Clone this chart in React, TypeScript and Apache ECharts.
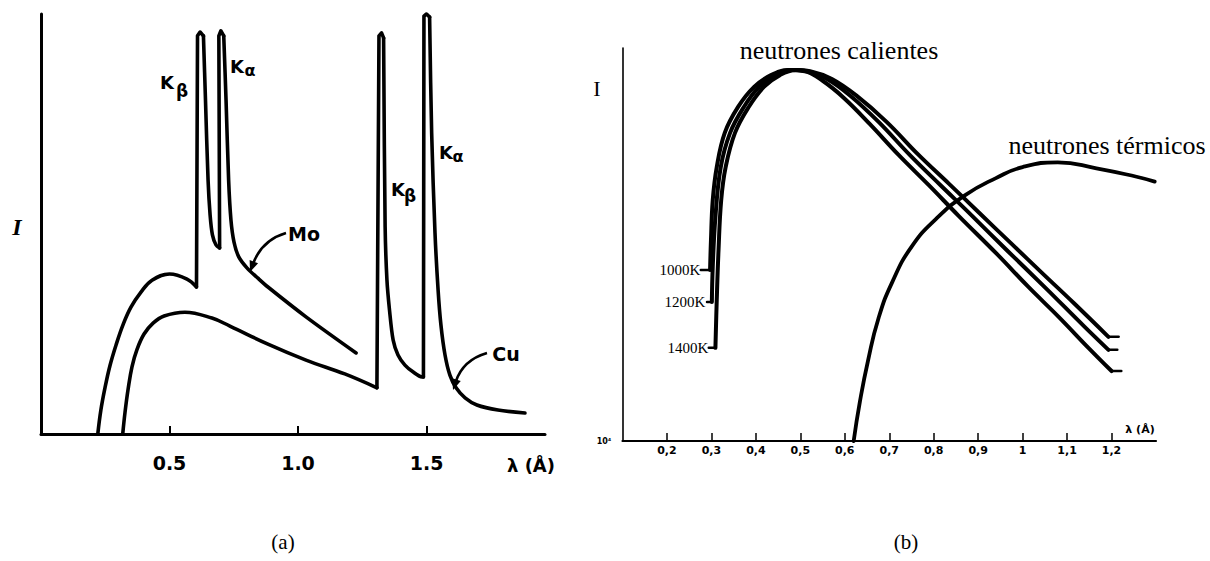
import React, { useEffect, useRef } from "react";
import * as echarts from "echarts";

// ---------- Panel (a): X-ray spectra, lambda (Å) vs relative intensity ----------
// Mo tube spectrum, split into pieces: smooth continuum, sharp lines, smooth decays
const moContinuum: number[][] = [
  [0.221, 0], [0.233, 0.057], [0.249, 0.11], [0.268, 0.162], [0.292, 0.212], [0.319, 0.26],
  [0.35, 0.302], [0.389, 0.338], [0.432, 0.366], [0.5, 0.381], [0.568, 0.369], [0.605, 0.35],
];
const moKbetaLine: number[][] = [[0.605, 0.35], [0.609, 0.948], [0.619, 0.957], [0.632, 0.948]];
const moKbetaDecay: number[][] = [
  [0.632, 0.948], [0.64, 0.795], [0.65, 0.605], [0.658, 0.521], [0.667, 0.474], [0.681, 0.45], [0.695, 0.443],
];
const moKalphaLine: number[][] = [[0.695, 0.443], [0.692, 0.948], [0.7, 0.96], [0.711, 0.948]];
const moKalphaDecay: number[][] = [
  [0.711, 0.948], [0.72, 0.795], [0.73, 0.605], [0.739, 0.51], [0.751, 0.457], [0.77, 0.421],
  [0.802, 0.395], [0.844, 0.371], [0.883, 0.35], [1.031, 0.279], [1.226, 0.193],
];
// Cu tube spectrum
const cuContinuum: number[][] = [
  [0.318, 0], [0.327, 0.052], [0.339, 0.107], [0.354, 0.16], [0.374, 0.202], [0.401, 0.238],
  [0.436, 0.264], [0.479, 0.281], [0.56, 0.29], [0.665, 0.276], [0.735, 0.257],
  [0.883, 0.214], [1.031, 0.176], [1.182, 0.143], [1.307, 0.11],
];
const cuKbetaLine: number[][] = [[1.307, 0.11], [1.315, 0.948], [1.325, 0.955], [1.333, 0.943]];
const cuKbetaDecay: number[][] = [
  [1.333, 0.943], [1.339, 0.493], [1.346, 0.367], [1.356, 0.295], [1.37, 0.224], [1.389, 0.188],
  [1.416, 0.164], [1.447, 0.148], [1.482, 0.136], [1.488, 0.136],
];
const cuKalphaLine: number[][] = [[1.488, 0.136], [1.49, 0.995], [1.5, 1.0], [1.512, 0.993]];
const cuKalphaDecay: number[][] = [
  [1.512, 0.993], [1.52, 0.717], [1.533, 0.479], [1.545, 0.343], [1.556, 0.26], [1.572, 0.188],
  [1.591, 0.14], [1.615, 0.11], [1.65, 0.086], [1.696, 0.069], [1.778, 0.057], [1.883, 0.05],
];
const ticksA = [0.5, 1.0, 1.5];

// ---------- Panel (b): neutron spectra ----------
const hot1000K: number[][] = [
  [0.297, 0.435], [0.299, 0.511], [0.303, 0.613], [0.312, 0.697], [0.33, 0.784],
  [0.36, 0.85], [0.396, 0.901], [0.434, 0.931], [0.474, 0.944], [0.51, 0.941], [0.551, 0.916],
  [0.598, 0.873], [0.656, 0.807], [0.721, 0.728], [0.789, 0.651], [0.856, 0.573], [0.942, 0.476],
  [1.013, 0.392], [1.081, 0.316], [1.148, 0.237], [1.2, 0.178],
];
const hot1200K: number[][] = [
  [0.301, 0.354], [0.303, 0.443], [0.309, 0.57], [0.321, 0.697], [0.342, 0.784],
  [0.373, 0.85], [0.407, 0.901], [0.443, 0.931], [0.481, 0.944], [0.515, 0.941], [0.56, 0.921],
  [0.613, 0.878], [0.676, 0.812], [0.746, 0.728], [0.816, 0.65], [0.879, 0.581], [0.964, 0.486],
  [1.052, 0.389], [1.139, 0.291], [1.193, 0.232],
];
const hot1400K: number[][] = [
  [0.309, 0.237], [0.312, 0.359], [0.316, 0.486], [0.322, 0.613], [0.332, 0.697],
  [0.353, 0.784], [0.384, 0.85], [0.418, 0.901], [0.454, 0.931], [0.49, 0.944], [0.522, 0.941],
  [0.571, 0.921], [0.627, 0.878], [0.694, 0.812], [0.766, 0.728], [0.834, 0.655], [0.901, 0.582],
  [0.973, 0.504], [1.047, 0.424], [1.115, 0.351], [1.193, 0.265],
];
// short label leaders (left) and end serifs (right) of the hot curves
const leader1000K: number[][] = [[0.276, 0.435], [0.297, 0.435]];
const leader1200K: number[][] = [[0.29, 0.354], [0.301, 0.354]];
const leader1400K: number[][] = [[0.294, 0.237], [0.309, 0.237]];
const serif1000K: number[][] = [[1.2, 0.178], [1.222, 0.178]];
const serif1200K: number[][] = [[1.193, 0.232], [1.213, 0.232]];
const serif1400K: number[][] = [[1.193, 0.265], [1.216, 0.265]];
const thermal: number[][] = [
  [0.62, 0], [0.634, 0.1], [0.652, 0.203], [0.676, 0.313], [0.707, 0.405], [0.75, 0.494],
  [0.806, 0.566], [0.87, 0.625], [0.94, 0.669], [1.0, 0.697], [1.079, 0.709], [1.166, 0.694],
  [1.254, 0.673], [1.297, 0.66],
];
const ticksB = [0.2, 0.3, 0.4, 0.5, 0.6, 0.7, 0.8, 0.9, 1, 1.1, 1.2];

const SANS = "DejaVu Sans";
const SERIF = "Liberation Serif";

function txt(text: string, x: number, y: number, font: string, size: number, extra: any = {}) {
  return {
    type: "text",
    x,
    y,
    style: {
      text,
      fontFamily: font,
      fontSize: size,
      fill: "#000",
      align: "center",
      verticalAlign: "middle",
      textAlign: "center",
      textVerticalAlign: "middle",
      ...extra,
    },
  };
}

function arrow(x0: number, y0: number, cx: number, cy: number, x1: number, y1: number) {
  const dx = x1 - cx;
  const dy = y1 - cy;
  const len = Math.hypot(dx, dy);
  const ux = dx / len;
  const uy = dy / len;
  const L = 11;
  const W = 4.5;
  const bx = x1 - ux * L;
  const by = y1 - uy * L;
  return [
    {
      type: "bezierCurve",
      shape: { x1: x0, y1: y0, cpx1: cx, cpy1: cy, x2: bx + ux * 2, y2: by + uy * 2 },
      style: { stroke: "#000", lineWidth: 2.6, fill: "none" },
    },
    {
      type: "polygon",
      shape: { points: [[x1, y1], [bx - uy * W, by + ux * W], [bx + uy * W, by - ux * W]] },
      style: { fill: "#000" },
    },
  ];
}

function lineSeries(data: number[][], idx: number, width: number, smooth: number | boolean) {
  return {
    type: "line",
    xAxisIndex: idx,
    yAxisIndex: idx,
    data,
    showSymbol: false,
    symbol: "none",
    smooth,
    clip: false,
    lineStyle: { color: "#000", width, join: "round", cap: "round" },
  };
}

export default function App() {
  const ref = useRef<HTMLDivElement>(null);
  useEffect(() => {
    if (!ref.current) return;
    const chart = echarts.init(ref.current, null, { renderer: "svg" });
    const W_A = 3.6;
    const W_B = 4;
    const option: any = {
      animation: false,
      backgroundColor: "#fff",
      grid: [
        { left: 41, top: 14, width: 504, height: 420 },
        { left: 622.5, top: 48, width: 533.5, height: 393 },
      ],
      xAxis: [
        {
          gridIndex: 0,
          type: "value",
          min: 0,
          max: 1.961,
          splitLine: { show: false },
          axisLine: { show: true, onZero: false, lineStyle: { color: "#000", width: 3 } },
          axisTick: { show: true, inside: true, length: 8, customValues: ticksA, lineStyle: { color: "#000", width: 2 } },
          axisLabel: {
            customValues: ticksA,
            formatter: (v: number) => v.toFixed(1),
            fontFamily: SANS,
            fontWeight: "bold",
            fontSize: 19,
            color: "#000",
            margin: 19,
          },
        },
        {
          gridIndex: 1,
          type: "value",
          min: 0.1,
          max: 1.3,
          splitLine: { show: false },
          axisLine: { show: true, onZero: false, lineStyle: { color: "#000", width: 2.2 } },
          axisTick: { show: true, inside: true, length: 8, customValues: ticksB, lineStyle: { color: "#000", width: 1.5 } },
          axisLabel: {
            customValues: ticksB,
            formatter: (v: number) => String(Math.round(v * 10) / 10).replace(".", ","),
            fontFamily: SANS,
            fontWeight: "bold",
            fontSize: 11,
            color: "#000",
            margin: 4,
          },
        },
      ],
      yAxis: [
        {
          gridIndex: 0,
          type: "value",
          min: 0,
          max: 1,
          splitLine: { show: false },
          axisLine: { show: true, onZero: false, lineStyle: { color: "#000", width: 3 } },
          axisTick: { show: false },
          axisLabel: { show: false },
        },
        {
          gridIndex: 1,
          type: "value",
          min: 0,
          max: 1,
          splitLine: { show: false },
          axisLine: { show: true, onZero: false, lineStyle: { color: "#000", width: 1.6 } },
          axisTick: { show: false },
          axisLabel: { show: false },
        },
      ],
      series: [
        lineSeries(moContinuum, 0, W_A, 0.4),
        lineSeries(moKbetaLine, 0, W_A, false),
        lineSeries(moKbetaDecay, 0, W_A, 0.3),
        lineSeries(moKalphaLine, 0, W_A, false),
        lineSeries(moKalphaDecay, 0, W_A, 0.3),
        lineSeries(cuContinuum, 0, W_A, 0.4),
        lineSeries(cuKbetaLine, 0, W_A, false),
        lineSeries(cuKbetaDecay, 0, W_A, 0.3),
        lineSeries(cuKalphaLine, 0, W_A, false),
        lineSeries(cuKalphaDecay, 0, W_A, 0.3),
        lineSeries(hot1000K, 1, W_B, 0.4),
        lineSeries(hot1200K, 1, W_B, 0.4),
        lineSeries(hot1400K, 1, W_B, 0.4),
        lineSeries(leader1000K, 1, 2.5, false),
        lineSeries(leader1200K, 1, 2.5, false),
        lineSeries(leader1400K, 1, 2.5, false),
        lineSeries(serif1000K, 1, 2.5, false),
        lineSeries(serif1200K, 1, 2.5, false),
        lineSeries(serif1400K, 1, 2.5, false),
        lineSeries(thermal, 1, 3.8, 0.5),
      ],
      graphic: [
        // panel (a) texts
        txt("I", 17, 227, SERIF, 24, { fontStyle: "italic", fontWeight: "bold" }),
        txt("K", 167, 82, SANS, 18, { fontWeight: "bold" }),
        txt("β", 182, 91, SANS, 17, { fontWeight: "bold" }),
        txt("K", 237, 66, SANS, 18, { fontWeight: "bold" }),
        txt("α", 250, 70, SANS, 16, { fontWeight: "bold" }),
        txt("Mo", 304, 234, SANS, 19, { fontWeight: "bold" }),
        txt("K", 398, 189, SANS, 18, { fontWeight: "bold" }),
        txt("β", 410, 196, SANS, 17, { fontWeight: "bold" }),
        txt("K", 446, 152, SANS, 18, { fontWeight: "bold" }),
        txt("α", 458, 156, SANS, 16, { fontWeight: "bold" }),
        txt("Cu", 506, 354, SANS, 19, { fontWeight: "bold" }),
        txt("λ (Å)", 531, 465, SANS, 18, { fontWeight: "bold" }),
        ...arrow(286, 233, 262, 240, 250, 272),
        ...arrow(487, 353, 463, 360, 453, 390),
        // panel (b) texts
        txt("I", 597, 88, SERIF, 22),
        txt("10⁴", 604, 441, SANS, 8, { fontWeight: "bold" }),
        txt("neutrones calientes", 839, 50, SERIF, 26),
        txt("neutrones térmicos", 1107, 145, SERIF, 26),
        txt("1000K", 680, 270, SERIF, 15),
        txt("1200K", 685, 302, SERIF, 15),
        txt("1400K", 688, 348, SERIF, 15),
        txt("λ (Å)", 1140, 429, SANS, 11, { fontWeight: "bold" }),
        // captions
        txt("(a)", 283, 542, SERIF, 21),
        txt("(b)", 906, 542, SERIF, 21),
      ],
    };
    chart.setOption(option);
    return () => chart.dispose();
  }, []);
  return (
    <div
      ref={ref}
      style={{ position: "absolute", left: 0, top: 0, width: 1210, height: 561, background: "#fff" }}
    />
  );
}
